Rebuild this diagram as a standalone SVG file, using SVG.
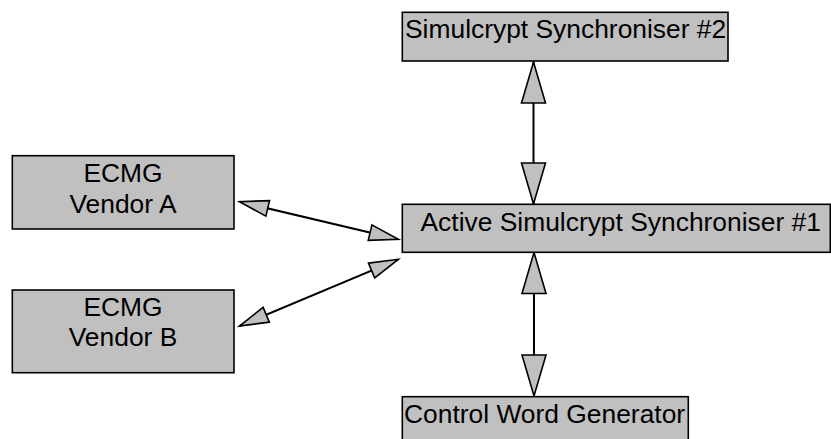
<svg xmlns="http://www.w3.org/2000/svg" width="831" height="439" viewBox="0 0 831 439">
<style>
.box{fill:#c0c0c0;stroke:#000;stroke-width:1.6}
.lbl{font-family:"Liberation Sans",Arial,sans-serif;font-size:26.4px;fill:#000}
.mid{text-anchor:middle}
.conn{stroke:#000;stroke-width:2;fill:none}
.big{marker-start:url(#ahBig);marker-end:url(#ahBig)}
.small{marker-start:url(#ahSmall);marker-end:url(#ahSmall)}
</style>
<defs>
<marker id="ahBig" markerUnits="userSpaceOnUse" viewBox="0 0 41 24" markerWidth="41" markerHeight="24" refX="41" refY="12" orient="auto-start-reverse" overflow="visible">
<path d="M0,0 L41,12 L0,24 Z" fill="#c0c0c0" stroke="#000" stroke-width="1.6" stroke-linejoin="miter"/>
</marker>
<marker id="ahSmall" markerUnits="userSpaceOnUse" viewBox="0 0 29 16" markerWidth="29" markerHeight="16" refX="29" refY="8" orient="auto-start-reverse" overflow="visible">
<path d="M0,0 L29,8 L0,16 Z" fill="#c0c0c0" stroke="#000" stroke-width="1.6" stroke-linejoin="miter"/>
</marker>
</defs>
<g id="connectors">
<line class="conn big" x1="533.5" y1="62" x2="533.5" y2="204"/>
<line class="conn big" x1="534" y1="252.5" x2="534" y2="396"/>
<line class="conn small" x1="239.5" y1="201.7" x2="398.3" y2="239.3"/>
<line class="conn small" x1="239.5" y1="326" x2="398.3" y2="259.3"/>
</g>
<g id="sync2">
<rect class="box" x="402.3" y="12.3" width="325.7" height="48.7"/>
<text class="lbl" x="405" y="37.7">Simulcrypt Synchroniser #2</text>
</g>
<g id="sync1">
<rect class="box" x="402.3" y="204.3" width="428" height="48"/>
<text class="lbl" x="420.5" y="230.7">Active Simulcrypt Synchroniser #1</text>
</g>
<g id="vendorA">
<rect class="box" x="12.3" y="155.7" width="221.7" height="73.3"/>
<text class="lbl mid" x="123" y="181.7">ECMG</text>
<text class="lbl mid" x="123" y="212.7">Vendor A</text>
</g>
<g id="vendorB">
<rect class="box" x="12.3" y="290" width="221.7" height="82.7"/>
<text class="lbl mid" x="123" y="315.7">ECMG</text>
<text class="lbl mid" x="123" y="345.7">Vendor B</text>
</g>
<g id="cwg">
<rect class="box" x="402.3" y="396.7" width="286" height="50"/>
<text class="lbl" x="404" y="422.7">Control Word Generator</text>
</g>
</svg>
